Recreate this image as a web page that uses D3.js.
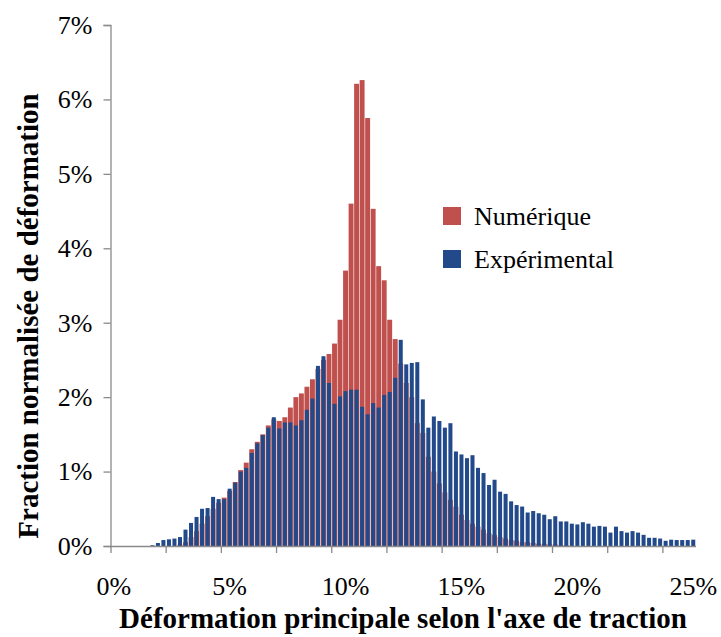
<!DOCTYPE html>
<html><head><meta charset="utf-8">
<script src="https://cdn.jsdelivr.net/npm/d3@7"></script>
<style>html,body{margin:0;padding:0;background:#fff;}svg{display:block;}</style>
</head><body>
<script>
// ---- data ----
const binCount = 106;               // categories 0% .. 25%
const categories = d3.range(binCount).map(i => +(i * 25 / 105).toFixed(3));
const numerique = [0,0,0,0,0,0,0,0,0,0,0,0,
  0.02,0.05,0.12,0.20,0.30,0.40,0.50,0.58,0.65,0.74,0.86,1.02,1.12,1.30,1.40,1.50,1.62,1.70,
  1.68,1.73,1.86,2.00,2.05,2.14,2.24,2.38,2.50,2.58,2.72,3.04,3.70,4.60,6.21,6.26,5.75,4.53,
  3.76,3.57,3.04,2.78,2.45,2.19,2.00,1.65,1.52,1.20,1.00,0.84,0.72,0.62,0.53,0.42,0.35,0.30,
  0.26,0.22,0.17,0.15,0.12,0.10,0.08,0.07,0.05,0.05,0.04,0.03,0.03,0.02,0.02,0.01,0.01,
  0,0,0,0,0,0,0,0,0,0,0,0,0,0,0,0,0,0,0,0,0,0,0];
const experimental = [0,0,0,0,0,0,0,
  0.01,0.04,0.08,0.09,0.10,0.12,0.22,0.31,0.39,0.50,0.51,0.66,0.63,0.63,0.77,0.85,1.00,1.05,
  1.25,1.38,1.49,1.59,1.73,1.58,1.66,1.66,1.62,1.69,1.83,1.98,2.42,2.55,2.19,1.91,2.01,2.08,
  2.10,2.10,1.87,1.77,1.92,1.86,2.03,2.07,2.26,2.77,2.44,2.46,2.47,1.97,1.59,1.74,1.68,1.59,
  1.65,1.27,1.23,1.18,1.22,1.05,0.98,0.82,0.89,0.73,0.70,0.60,0.55,0.53,0.45,0.47,0.44,0.42,
  0.36,0.40,0.33,0.33,0.30,0.29,0.32,0.30,0.26,0.27,0.26,0.18,0.26,0.20,0.18,0.20,0.18,0.15,
  0.11,0.11,0.10,0.07,0.085,0.08,0.08,0.08,0.085];
const xLabelIdx = [0,21,42,63,84,105];
const xLabels = ["0%","5%","10%","15%","20%","25%"];
const yTicks = [0,1,2,3,4,5,6,7];
const seriesNames = ["Numérique","Expérimental"];
const colors = ["#C0504D","#22498A"];

// ---- layout ----
const W = 721, H = 637;
const mLeft = 111, mRight = 696, mTop = 25, mBottom = 546;
const svg = d3.select("body").append("svg").attr("width", W).attr("height", H);
svg.append("rect").attr("width", W).attr("height", H).attr("fill", "#fff");

const x = d3.scaleBand().domain(d3.range(binCount)).range([mLeft, mRight]).paddingInner(0).paddingOuter(0);
const y = d3.scaleLinear().domain([0, 7]).range([mBottom, mTop]);
const bw = x.bandwidth();
const font = "'Liberation Serif','Times New Roman',serif";

// bars
svg.append("g").selectAll("rect").data(numerique).join("rect")
  .attr("x", (d, i) => x(i) + 0.3).attr("width", bw - 0.6)
  .attr("y", d => y(d)).attr("height", d => mBottom - y(d))
  .attr("fill", colors[0]);
svg.append("g").selectAll("rect").data(experimental).join("rect")
  .attr("x", (d, i) => x(i) + 0.75).attr("width", bw - 1.5)
  .attr("y", d => y(d)).attr("height", d => mBottom - y(d))
  .attr("fill", colors[1]);

// axes
const axisColor = "#8a8a8a";
const yAxis = d3.axisLeft(y).tickValues(yTicks).tickFormat(d => d + "%").tickSize(7).tickPadding(11);
const gy = svg.append("g").attr("transform", `translate(${mLeft - 0.5},0)`).call(yAxis);
gy.select(".domain").attr("stroke", axisColor).attr("stroke-width", 1.3);
gy.selectAll(".tick line").attr("stroke", axisColor).attr("stroke-width", 1.3);
gy.selectAll(".tick text").attr("font-family", font).attr("font-size", 26).attr("fill", "#000");

const xTickIdx = d3.range(0, 101, 10);
const gx = svg.append("g");
gx.append("line").attr("x1", mLeft - 1).attr("x2", mRight).attr("y1", mBottom + 0.5).attr("y2", mBottom + 0.5)
  .attr("stroke", axisColor).attr("stroke-width", 1.3);
gx.selectAll("line.tk").data(xTickIdx).join("line").attr("class", "tk")
  .attr("x1", d => x(d)).attr("x2", d => x(d)).attr("y1", mBottom).attr("y2", mBottom + 7)
  .attr("stroke", axisColor).attr("stroke-width", 1.3);
gx.selectAll("text").data(xLabelIdx).join("text")
  .attr("x", d => x(d) + bw / 2).attr("y", 595)
  .attr("text-anchor", "middle").attr("font-family", font).attr("font-size", 26)
  .text((d, i) => xLabels[i]);

// titles
svg.append("text").attr("x", 403).attr("y", 628).attr("text-anchor", "middle")
  .attr("font-family", font).attr("font-weight", "bold").attr("font-size", 29)
  .text("Déformation principale selon l'axe de traction");
svg.append("text").attr("transform", "translate(38,316) rotate(-90)").attr("text-anchor", "middle")
  .attr("font-family", font).attr("font-weight", "bold").attr("font-size", 29)
  .text("Fraction normalisée de déformation");

// legend
const lg = svg.append("g");
seriesNames.forEach((n, i) => {
  const yy = 216 + i * 43;
  lg.append("rect").attr("x", 443).attr("y", yy - 9).attr("width", 18).attr("height", 18).attr("fill", colors[i]);
  lg.append("text").attr("x", 474).attr("y", yy + 9).attr("font-family", font).attr("font-size", 26).text(n);
});
</script>
</body></html>
